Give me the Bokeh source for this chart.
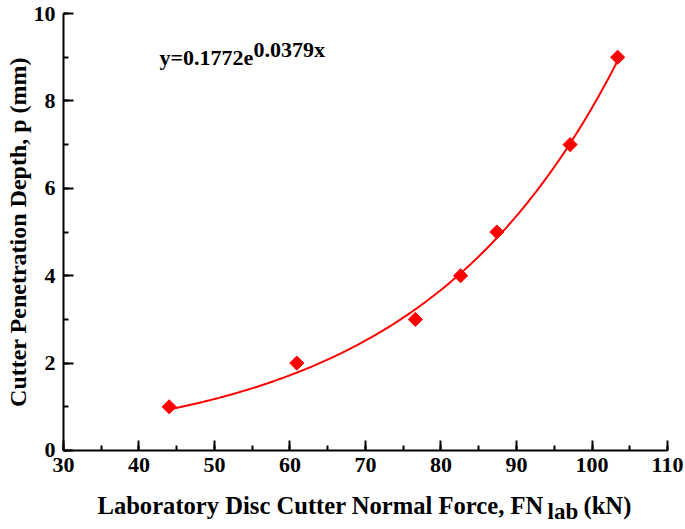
import numpy as np
from bokeh.plotting import figure
from bokeh.models import Label, Range1d, SingleIntervalTicker
from bokeh.embed import file_html
from bokeh.resources import INLINE

# data
force_kn = [44.0, 60.9, 76.6, 82.6, 87.4, 97.1, 103.4]
penetration_mm = [1.0, 2.0, 3.0, 4.0, 5.0, 7.0, 9.0]
# fitted curve stated on the chart: y = a * exp(b x)
fit_a = 0.1772
fit_b = 0.0379
eq_main = "y=0.1772e"
eq_exp = "0.0379x"
xlabel_main = "Laboratory Disc Cutter Normal Force, FN"
xlabel_sub = "lab"
xlabel_unit = "(kN)"
ylabel = "Cutter Penetration Depth, p (mm)"
x_axis_min, x_axis_max = 30, 110
y_axis_min, y_axis_max = 0, 10

FONT = "Liberation Serif"
W, H = 685, 529

# the frame covers the whole canvas; the axes are pinned at x=30 / y=0
p = figure(width=W, height=H, output_backend="svg", toolbar_location=None,
           x_range=Range1d(21.656, 112.384), y_range=Range1d(-1.8078, 10.2975),
           min_border_left=0, min_border_right=0, min_border_top=0, min_border_bottom=0)
p.outline_line_color = None
p.grid.visible = False
p.background_fill_color = "white"

xs = np.linspace(min(force_kn), max(force_kn), 200)
ys = fit_a * np.exp(fit_b * xs)
p.line(xs, ys, line_color="#ff0000", line_width=2)
p.scatter(force_kn, penetration_mm, marker="square", angle=np.pi / 4, size=10,
          fill_color="#ff0000", line_color="#ff0000")

p.xaxis.ticker = SingleIntervalTicker(interval=10, num_minor_ticks=2)
p.yaxis.ticker = SingleIntervalTicker(interval=2, num_minor_ticks=2)
p.xaxis.fixed_location = y_axis_min
p.xaxis.bounds = (x_axis_min, x_axis_max)
p.yaxis.fixed_location = x_axis_min
p.yaxis.bounds = (y_axis_min, y_axis_max)
for ax in (p.xaxis[0], p.yaxis[0]):
    ax.axis_line_width = 2
    ax.major_tick_line_width = 2
    ax.minor_tick_line_width = 2
    ax.major_tick_in = 10
    ax.major_tick_out = 0
    ax.minor_tick_in = 5
    ax.minor_tick_out = 0
    ax.major_label_text_font = FONT
    ax.major_label_text_font_style = "bold"
    ax.major_label_text_font_size = "22px"
    ax.major_label_text_color = "black"
    ax.major_label_standoff = 8

p.yaxis.axis_label = ylabel
p.yaxis.axis_label_text_font = FONT
p.yaxis.axis_label_text_font_style = "bold"
p.yaxis.axis_label_text_font_size = "24px"
p.yaxis.axis_label_text_color = "black"
p.yaxis.axis_label_standoff = 0

common = dict(text_font=FONT, text_font_style="bold",
              text_baseline="alphabetic", text_align="left", text_color="black")
# equation
p.add_layout(Label(x=42.715, y=8.993, text=eq_main, text_font_size="22px", **common))
p.add_layout(Label(x=55.166, y=9.176, text=eq_exp, text_font_size="22px", **common))
# x-axis title with subscript
p.add_layout(Label(x=34.503, y=-1.2586, text=xlabel_main, text_font_size="24.6px", **common))
p.add_layout(Label(x=94.106, y=-1.3959, text=xlabel_sub, text_font_size="23px", **common))
p.add_layout(Label(x=98.874, y=-1.2586, text=xlabel_unit, text_font_size="24.6px", **common))

open("out.html", "w").write(file_html(p, INLINE))
